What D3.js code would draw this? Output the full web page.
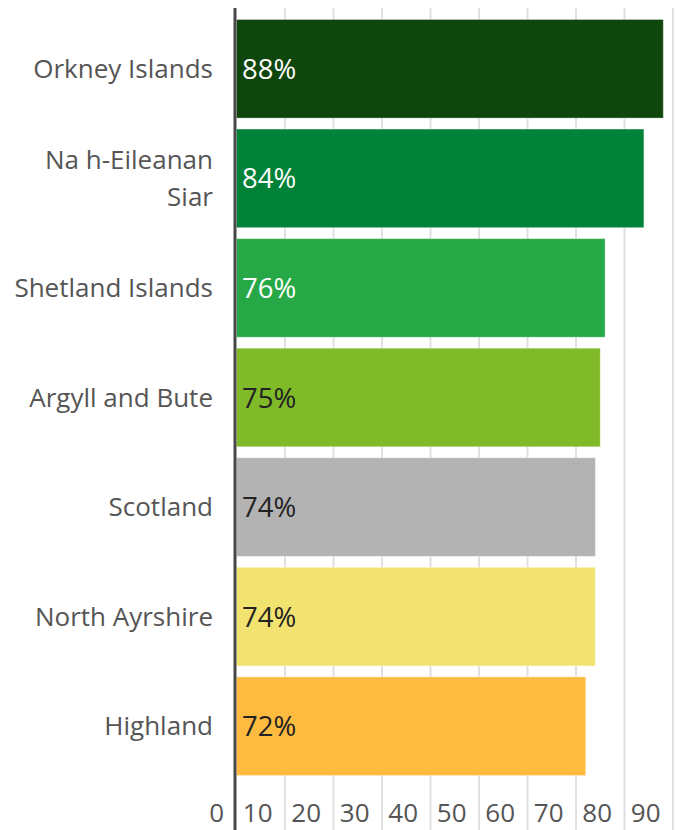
<!DOCTYPE html>
<html>
<head>
<meta charset="utf-8">
<script src="https://cdn.jsdelivr.net/npm/d3@7"></script>
<style>
  body { margin: 0; background: #fff; }
  svg text { font-family: "Open Sans", sans-serif; font-stretch: 100%; }
</style>
</head>
<body>
<div id="chart"></div>
<script>
const svgWidth = 675;
const svgHeight = 830;

// data
const areas = ["Orkney Islands", "Na h-Eileanan Siar", "Shetland Islands", "Argyll and Bute", "Scotland", "North Ayrshire", "Highland"];
const values = [88, 84, 76, 75, 74, 74, 72];
const colors = ["#0f460c", "#008238", "#26a847", "#80ba28", "#b3b3b3", "#f2e370", "#fdbb40"];
const labelColors = ["#fff", "#fff", "#fff", "#222", "#222", "#222", "#222"];
const ticks = [0, 10, 20, 30, 40, 50, 60, 70, 80, 90];

const svg = d3.select("#chart")
    .append("svg")
    .attr("width", svgWidth)
    .attr("height", svgHeight);

const x = d3.scaleLinear()
    .domain([0, 90])
    .range([236.5, 673]);

const y = d3.scaleBand()
    .domain(areas)
    .range([14, 781])
    .paddingInner(0.1)
    .paddingOuter(0.05);

// gridlines
svg.append("g")
    .selectAll("line")
    .data(ticks.slice(1))
    .enter()
    .append("line")
    .attr("x1", d => x(d))
    .attr("x2", d => x(d))
    .attr("y1", 8)
    .attr("y2", svgHeight)
    .attr("stroke", "#e0e0e0")
    .attr("stroke-width", 2);

// bars
svg.append("g")
    .selectAll("rect")
    .data(areas)
    .enter()
    .append("rect")
    .attr("x", x(0))
    .attr("y", d => y(d))
    .attr("width", (d, i) => x(values[i]) - x(0))
    .attr("height", y.bandwidth())
    .attr("fill", (d, i) => colors[i])
    .attr("stroke", "rgba(255,255,255,0.35)")
    .attr("stroke-width", 1);

// value labels
svg.append("g")
    .selectAll("text")
    .data(areas)
    .enter()
    .append("text")
    .attr("x", 242)
    .attr("y", d => y(d) + y.bandwidth() / 2 + 10)
    .attr("fill", (d, i) => labelColors[i])
    .style("font-size", "27.5px")
    .text((d, i) => values[i] + "%");

// category labels (wrap "Na h-Eileanan Siar")
const catLabels = svg.append("g")
    .selectAll("text")
    .data(areas)
    .enter()
    .append("text")
    .attr("text-anchor", "end")
    .attr("fill", "#555")
    .style("font-size", "26px")
    .attr("y", d => y(d) + y.bandwidth() / 2 + 9);

catLabels.each(function (d) {
    const t = d3.select(this);
    const lines = d === "Na h-Eileanan Siar" ? ["Na h-Eileanan", "Siar"] : [d];
    lines.forEach((line, j) => {
        t.append("tspan")
            .attr("x", 213)
            .attr("dy", j === 0 ? -(lines.length - 1) * 18.5 : 37)
            .text(line);
    });
});

// x axis labels
const bottomAxis = d3.axisBottom(x)
    .tickValues(ticks)
    .tickSize(0)
    .tickPadding(0);

const axisG = svg.append("g")
    .attr("transform", "translate(0, 822)")
    .call(bottomAxis);
axisG.select(".domain").remove();
axisG.selectAll("text")
    .attr("text-anchor", "end")
    .attr("dx", -13)
    .attr("dy", 0)
    .attr("y", 0)
    .attr("fill", "#555")
    .style("font-size", "26px")
    .style("font-family", null);

// y axis line
svg.append("line")
    .attr("x1", 235)
    .attr("x2", 235)
    .attr("y1", 8)
    .attr("y2", svgHeight)
    .attr("stroke", "#474747")
    .attr("stroke-width", 3);
</script>
</body>
</html>
